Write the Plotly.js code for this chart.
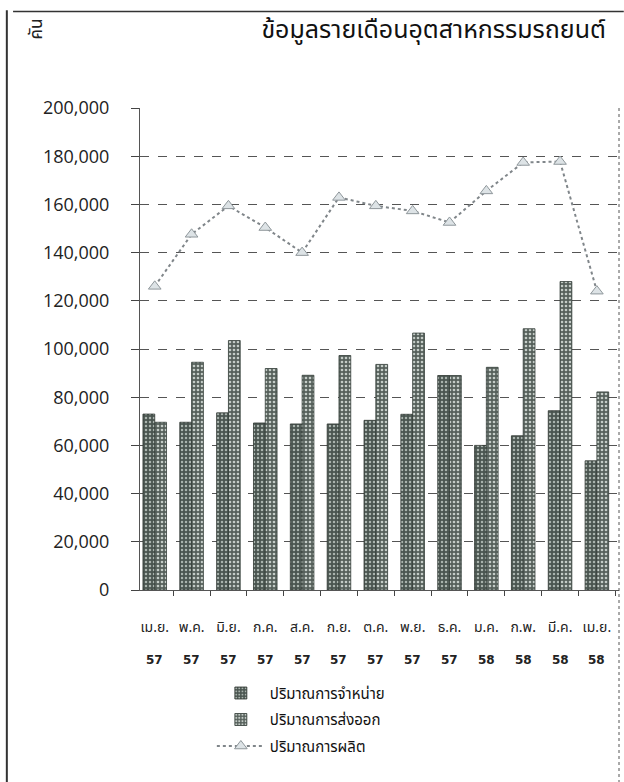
<!DOCTYPE html>
<html>
<head>
<meta charset="utf-8">
<script src="https://cdn.plot.ly/plotly-3.0.1.min.js"></script>
<style>
  html, body { margin: 0; padding: 0; background: #fff; }
  #chart { width: 624px; height: 782px; }
</style>
</head>
<body>
<div id="chart"></div>
<script>
// ---- data ----
const categories = ["เม.ย. 57", "พ.ค. 57", "มิ.ย. 57", "ก.ค. 57", "ส.ค. 57", "ก.ย. 57", "ต.ค. 57",
                    "พ.ย. 57", "ธ.ค. 57", "ม.ค. 58", "ก.พ. 58", "มี.ค. 58", "เม.ย. 58"];
const monthLabels = ["เม.ย.", "พ.ค.", "มิ.ย.", "ก.ค.", "ส.ค.", "ก.ย.", "ต.ค.",
                     "พ.ย.", "ธ.ค.", "ม.ค.", "ก.พ.", "มี.ค.", "เม.ย."];
const yearLabels = ["57", "57", "57", "57", "57", "57", "57", "57", "57", "58", "58", "58", "58"];
const sales = [73000, 69600, 73500, 69300, 68900, 68900, 70400, 72900, 89000, 60000, 64000, 74400, 53600];
const exportsVol = [69600, 94500, 103500, 91900, 89100, 97300, 93600, 106600, 89000, 92400, 108400, 128000, 82200];
const production = [126000, 147600, 159400, 150400, 140000, 162900, 159400, 157300, 152500, 165600, 177400, 177800, 124000];
const yTicks = [0, 20000, 40000, 60000, 80000, 100000, 120000, 140000, 160000, 180000, 200000];

const seriesNames = ["ปริมาณการจำหน่าย", "ปริมาณการส่งออก", "ปริมาณการผลิต"];
const titleText = "ข้อมูลรายเดือนอุตสาหกรรมรถยนต์";
const unitText = "คัน";

const thaiFont = "'Noto Sans Thai', 'Noto Sans', Loma, Garuda, 'DejaVu Sans', sans-serif";

const traces = [
  {
    type: "bar", name: seriesNames[0], x: categories, y: sales, legendgroup: "g1",
    marker: { color: "#4a5550", line: { color: "#2e3631", width: 0.8 },
              pattern: { shape: ".", bgcolor: "#4a5550", fgcolor: "#aab4ae", size: 4, solidity: 0.3 } }
  },
  {
    type: "bar", name: seriesNames[1], x: categories, y: exportsVol, legendgroup: "g2",
    marker: { color: "#56605b", line: { color: "#343d38", width: 0.8 },
              pattern: { shape: ".", bgcolor: "#56605b", fgcolor: "#c4ccc7", size: 4, solidity: 0.35 } }
  },
  {
    type: "scatter", mode: "lines+markers", name: seriesNames[2], x: categories, y: production, legendgroup: "g3",
    line: { color: "#80868a", width: 2, dash: "dot" },
    marker: { symbol: "triangle-up", size: 11, color: "#dde3e6", line: { color: "#8f979b", width: 1 } }
  }
];

const yearAnnotations = categories.map((c, i) => ({
  x: c, xref: "x", y: -0.145, yref: "paper", text: "<b>" + yearLabels[i] + "</b>", showarrow: false,
  font: { family: "'DejaVu Sans', sans-serif", size: 12, color: "#222" }, xanchor: "center", yanchor: "middle"
}));

const layout = {
  width: 624, height: 782,
  paper_bgcolor: "#ffffff", plot_bgcolor: "#ffffff",
  margin: { l: 140, r: 5, t: 108, b: 192 },
  title: {
    text: titleText, x: 0.695, xanchor: "center", y: 0.962, yanchor: "middle",
    font: { family: thaiFont, size: 25, color: "#111" }
  },
  barmode: "group", bargap: 0.36, bargroupgap: 0,
  showlegend: true,
  legend: {
    orientation: "v", x: 0.15, xanchor: "left", y: -0.18, yanchor: "top",
    font: { family: thaiFont, size: 15, color: "#111" },
    itemwidth: 48, tracegroupgap: 4, bgcolor: "rgba(0,0,0,0)"
  },
  xaxis: {
    type: "category", range: [-0.4, 12.6], tickvals: categories, ticktext: monthLabels, tickangle: 0,
    tickfont: { family: thaiFont, size: 14, color: "#222" },
    ticks: "outside", ticklen: 5, tickcolor: "#444", tickson: "boundaries", ticklabelstandoff: 24,
    showline: true, linecolor: "#555", linewidth: 1,
    showgrid: false, fixedrange: true
  },
  yaxis: {
    range: [0, 200000], tickvals: yTicks, tickformat: ",d",
    tickfont: { family: "'Open Sans', sans-serif", size: 18, color: "#222" },
    ticks: "outside", ticklen: 8, tickcolor: "#444", ticklabelstandoff: 18,
    showline: true, linecolor: "#555", linewidth: 1,
    showgrid: true, gridcolor: "#555", gridwidth: 1, griddash: "dash",
    zeroline: false, fixedrange: true
  },
  annotations: [
    {
      text: unitText, xref: "paper", yref: "paper", x: -0.215, y: 1.163,
      showarrow: false, textangle: -90,
      font: { family: thaiFont, size: 17, color: "#222" }, xanchor: "center", yanchor: "middle"
    }
  ].concat(yearAnnotations),
  shapes: [
    { type: "line", xref: "paper", yref: "paper", x0: -0.278, x1: -0.278, y0: 1.203, y1: -0.4,
      line: { color: "#333", width: 2 } },
    { type: "line", xref: "paper", yref: "paper", x0: -0.265, x1: 1.01, y0: 1.2, y1: 1.2,
      line: { color: "#333", width: 1.5 } },
    { type: "line", xref: "paper", yref: "paper", x0: 1.0, x1: 1.0, y0: 1.0, y1: -0.4,
      line: { color: "#555", width: 1, dash: "dot" } }
  ]
};

Plotly.newPlot("chart", traces, layout, { displayModeBar: false, staticPlot: true });
</script>
</body>
</html>
